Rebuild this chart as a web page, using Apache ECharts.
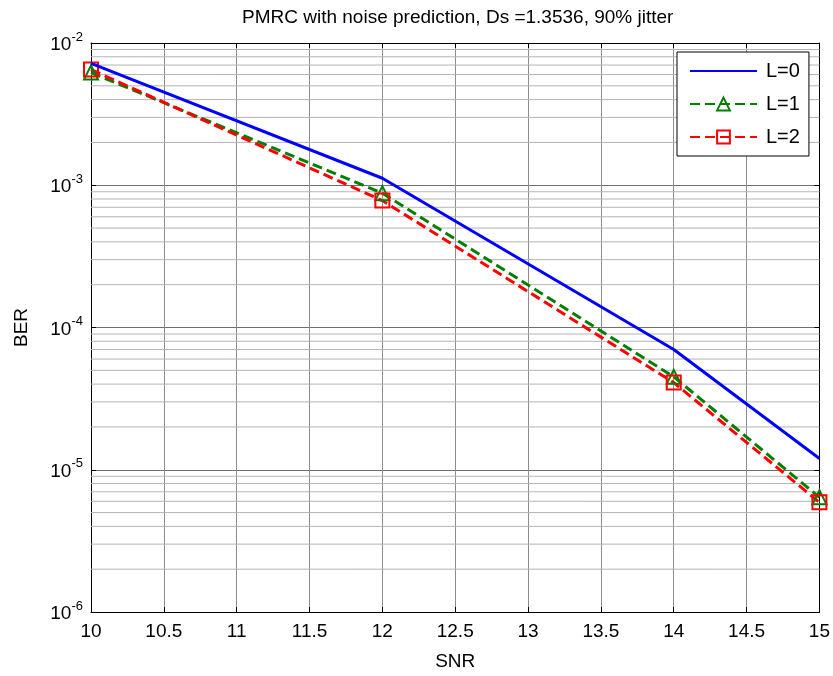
<!DOCTYPE html>
<html>
<head>
<meta charset="utf-8">
<script src="https://cdn.jsdelivr.net/npm/echarts@6/dist/echarts.min.js"></script>
<style>
html, body { margin: 0; padding: 0; background: #fff; }
#chart { width: 833px; height: 676px; }
</style>
</head>
<body>
<div id="chart"></div>
<script>
// data
var snr = [10, 12, 14, 15];
var berL0 = [7.2e-3, 1.12e-3, 7.0e-5, 1.2e-5];
var berL1 = [6.2e-3, 8.8e-4, 4.5e-5, 6.4e-6];
var berL2 = [6.5e-3, 7.8e-4, 4.1e-5, 5.9e-6];
var seriesNames = ['L=0', 'L=1', 'L=2'];
var decades = [-6, -5, -4, -3, -2];
var snrMin = 10, snrMax = 15;

function pairs(xs, ys) {
	var out = [];
	for (var i = 0; i < xs.length; i++) {
		out.push([xs[i], ys[i]]);
	}
	return out;
}

// minor grid lines 2..9 x 10^k, one broken polyline
var minorGrid = [];
for (var k = 0; k < decades.length - 1; k++) {
	for (var m = 2; m <= 9; m++) {
		var v = m * Math.pow(10, decades[k]);
		minorGrid.push([snrMin, v], [snrMax, v], [snrMax, '-']);
	}
}

var fontName = 'Liberation Sans, Arial, sans-serif';

option = {
	animation : false,
	backgroundColor : '#ffffff',
	title : {
		text : 'PMRC with noise prediction, Ds =1.3536, 90% jitter',
		left : 237,
		top : 3,
		textStyle : {
			fontFamily : fontName,
			fontSize : 19,
			fontWeight : 'normal',
			color : '#000000'
		}
	},
	legend : {
		data : [ { name : 'L=0', itemStyle : { opacity : 0 } }, 'L=1', 'L=2' ],
		orient : 'vertical',
		left : 677,
		top : 52,
		padding : [ 9, 9, 9, 12 ],
		itemWidth : 67,
		itemHeight : 16,
		itemGap : 13,
		borderColor : '#000000',
		borderWidth : 1,
		backgroundColor : '#ffffff',
		textStyle : {
			fontFamily : fontName,
			fontSize : 20,
			color : '#000000',
			padding : [ 0, 0, 0, 4 ]
		}
	},
	grid : {
		left : 91,
		right : 13,
		top : 43,
		bottom : 61
	},
	xAxis : [ {
		type : 'value',
		min : snrMin,
		max : snrMax,
		interval : 0.5,
		name : 'SNR',
		nameLocation : 'middle',
		nameGap : 40,
		nameTextStyle : {
			fontFamily : fontName,
			fontSize : 19,
			color : '#000000'
		},
		axisLine : { lineStyle : { color : '#000000', width : 1 } },
		axisTick : { inside : true, length : 5, lineStyle : { color : '#000000' } },
		axisLabel : {
			fontFamily : fontName,
			fontSize : 19,
			color : '#000000',
			margin : 10,
			formatter : function(v) { return String(v); }
		},
		splitLine : { show : true, lineStyle : { color : '#8c8c8c', width : 1 } }
	}, {
		type : 'value',
		position : 'top',
		min : snrMin,
		max : snrMax,
		interval : 0.5,
		axisLine : { lineStyle : { color : '#000000', width : 1 } },
		axisTick : { inside : true, length : 5, lineStyle : { color : '#000000' } },
		axisLabel : { show : false },
		splitLine : { show : false }
	} ],
	yAxis : [ {
		type : 'log',
		logBase : 10,
		min : 1e-6,
		max : 1e-2,
		splitNumber : 4,
		name : 'BER',
		nameLocation : 'middle',
		nameGap : 60,
		nameTextStyle : {
			fontFamily : fontName,
			fontSize : 19,
			color : '#000000'
		},
		axisLine : { lineStyle : { color : '#000000', width : 1 } },
		axisTick : { inside : true, length : 5, lineStyle : { color : '#000000' } },
		axisLabel : {
			margin : 8,
			formatter : function(v) {
				var e = Math.round(Math.log(v) / Math.LN10);
				return '{b|10}{s|' + e + '}';
			},
			rich : {
				b : { fontFamily : fontName, fontSize : 19, color : '#000000', padding : [ 4, 0, 0, 0 ] },
				s : { fontFamily : fontName, fontSize : 13, color : '#000000', padding : [ 0, 0, 12, 0 ] }
			}
		},
		splitLine : { show : true, lineStyle : { color : '#6e6e6e', width : 1 } }
	}, {
		type : 'log',
		logBase : 10,
		min : 1e-6,
		max : 1e-2,
		splitNumber : 4,
		position : 'right',
		axisLine : { lineStyle : { color : '#000000', width : 1 } },
		axisTick : { inside : true, length : 5, lineStyle : { color : '#000000' } },
		axisLabel : { show : false },
		splitLine : { show : false }
	} ],
	series : [ {
		name : 'minor',
		type : 'line',
		data : minorGrid,
		symbol : 'none',
		silent : true,
		connectNulls : false,
		z : 1,
		lineStyle : { color : '#b4b4b4', width : 1 }
	}, {
		name : 'L=0',
		type : 'line',
		data : pairs(snr, berL0),
		showSymbol : false,
		z : 5,
		color : '#0000ff',
		lineStyle : { color : '#0000ff', width : 3 }
	}, {
		name : 'L=1',
		type : 'line',
		data : pairs(snr, berL1),
		symbol : 'triangle',
		symbolSize : 14,
		z : 4,
		color : '#008000',
		itemStyle : { color : 'rgba(0,0,0,0)', borderColor : '#008000', borderWidth : 2 },
		lineStyle : { color : '#008000', width : 3, type : [ 10, 5 ] }
	}, {
		name : 'L=2',
		type : 'line',
		data : pairs(snr, berL2),
		symbol : 'rect',
		symbolSize : 14,
		z : 4,
		color : '#ff0000',
		itemStyle : { color : 'rgba(0,0,0,0)', borderColor : '#ff0000', borderWidth : 2 },
		lineStyle : { color : '#ff0000', width : 3, type : [ 10, 5 ] }
	} ]
};

var myChart = echarts.init(document.getElementById('chart'));
myChart.setOption(option, true);
</script>
</body>
</html>
